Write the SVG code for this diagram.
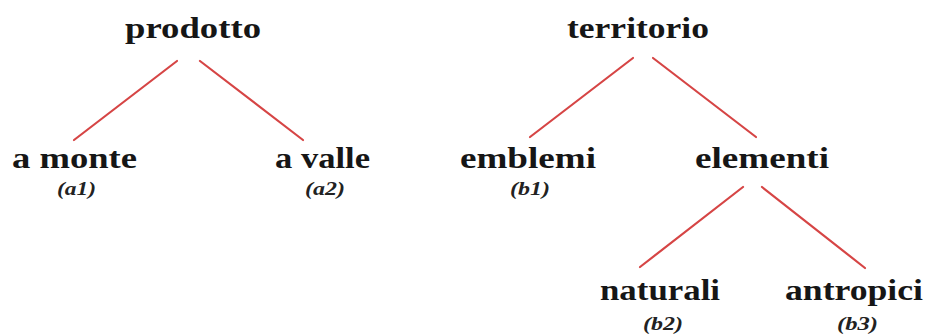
<svg xmlns="http://www.w3.org/2000/svg" width="927" height="334" viewBox="0 0 927 334">
<style>
.t{font-family:"Liberation Serif","Times New Roman",serif;font-weight:bold;font-size:29px;fill:#161616}
.s{font-family:"Liberation Serif","Times New Roman",serif;font-weight:bold;font-style:italic;font-size:18px;fill:#222}
.c line{stroke:#d64545;stroke-width:2.2;stroke-linecap:round}
</style>
<rect width="927" height="334" fill="#ffffff"/>
<g class="c" id="connectors">
<line x1="177" y1="61" x2="74" y2="140"/>
<line x1="200" y1="61" x2="303" y2="140"/>
<line x1="633" y1="58" x2="530" y2="137"/>
<line x1="653" y1="58" x2="756" y2="137"/>
<line x1="743" y1="187" x2="640" y2="267"/>
<line x1="762" y1="187" x2="865" y2="268"/>
</g>
<g id="prodotto"><text class="t" x="125" y="38" textLength="136" lengthAdjust="spacingAndGlyphs">prodotto</text></g>
<g id="a-monte"><text class="t" x="12" y="168" textLength="125" lengthAdjust="spacingAndGlyphs">a monte</text><text class="s" x="57" y="195" textLength="39" lengthAdjust="spacingAndGlyphs">(a1)</text></g>
<g id="a-valle"><text class="t" x="275" y="168" textLength="95" lengthAdjust="spacingAndGlyphs">a valle</text><text class="s" x="305" y="195" textLength="40" lengthAdjust="spacingAndGlyphs">(a2)</text></g>
<g id="territorio"><text class="t" x="567" y="38" textLength="142" lengthAdjust="spacingAndGlyphs">territorio</text></g>
<g id="emblemi"><text class="t" x="460" y="168" textLength="136" lengthAdjust="spacingAndGlyphs">emblemi</text><text class="s" x="510" y="195" textLength="40" lengthAdjust="spacingAndGlyphs">(b1)</text></g>
<g id="elementi"><text class="t" x="695" y="168" textLength="134" lengthAdjust="spacingAndGlyphs">elementi</text></g>
<g id="naturali"><text class="t" x="600" y="300" textLength="120" lengthAdjust="spacingAndGlyphs">naturali</text><text class="s" x="643" y="330" textLength="40" lengthAdjust="spacingAndGlyphs">(b2)</text></g>
<g id="antropici"><text class="t" x="785" y="300" textLength="138" lengthAdjust="spacingAndGlyphs">antropici</text><text class="s" x="837" y="330" textLength="41" lengthAdjust="spacingAndGlyphs">(b3)</text></g>
</svg>
